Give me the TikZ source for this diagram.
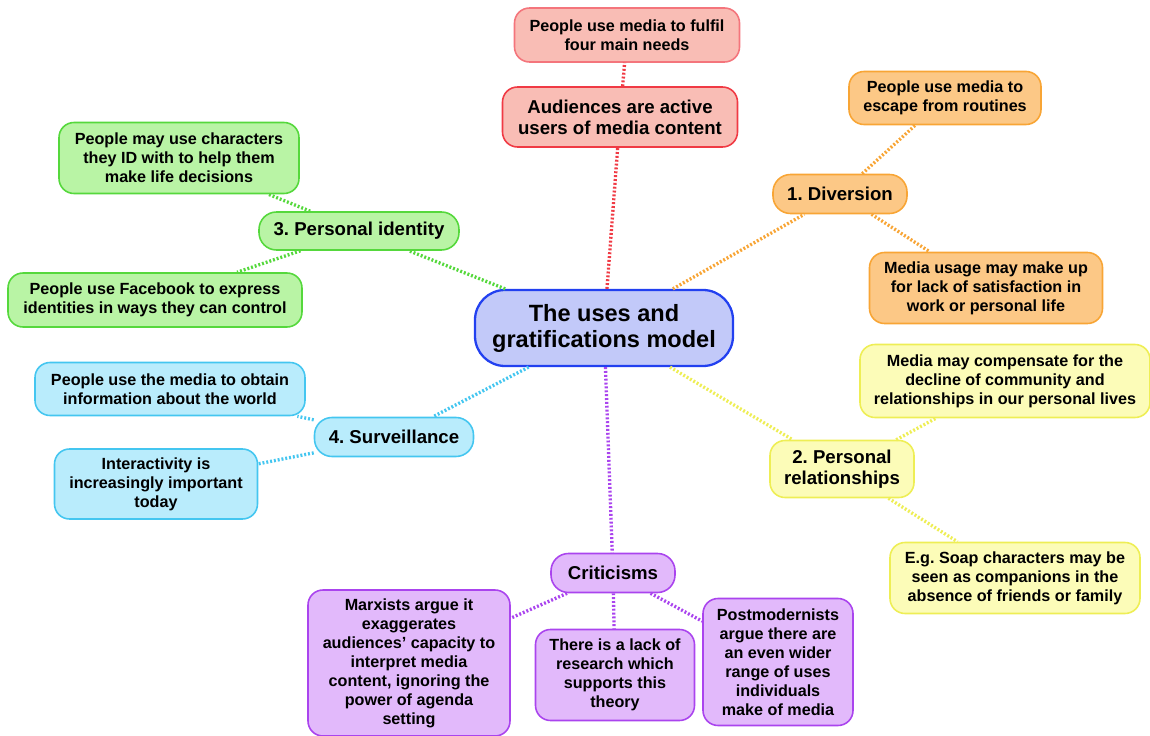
\documentclass[tikz,border=0pt]{standalone}
\usepackage{fontspec}
\setmainfont{Liberation Sans}
\usetikzlibrary{positioning}

\definecolor{bluefill}{HTML}{C2C9F9}
\definecolor{blueline}{HTML}{2240F0}
\definecolor{redfill}{HTML}{F9BDB5}
\definecolor{redline}{HTML}{F03A44}
\definecolor{orangefill}{HTML}{FCC886}
\definecolor{orangeline}{HTML}{F8A535}
\definecolor{yellowfill}{HTML}{FCFCB8}
\definecolor{yellowline}{HTML}{EEEE55}
\definecolor{purplefill}{HTML}{E2B9FB}
\definecolor{purpleline}{HTML}{AA44EE}
\definecolor{cyanfill}{HTML}{B9ECFC}
\definecolor{cyanline}{HTML}{44C6F0}
\definecolor{greenfill}{HTML}{B9F4A5}
\definecolor{greenline}{HTML}{55D83C}

\frenchspacing
\begin{document}
\begin{tikzpicture}[x=0.02cm, y=-0.02cm,
  box/.style={draw, line width=0.9pt, rounded corners=0.3cm, align=center, inner sep=2pt,
    font=\bfseries\fontsize{9.2}{10.8}\selectfont},
  sz/.style 2 args={minimum width=#1*0.02cm, minimum height=#2*0.02cm},
  mid/.style={font=\bfseries\fontsize{10.6}{12}\selectfont},
  link/.style={line width=1.9pt, dash pattern=on 1.1pt off 1.1pt},
  redbox/.style={box, fill=redfill, draw=redline!70},
  orangebox/.style={box, fill=orangefill, draw=orangeline},
  yellowbox/.style={box, fill=yellowfill, draw=yellowline},
  purplebox/.style={box, fill=purplefill, draw=purpleline},
  cyanbox/.style={box, fill=cyanfill, draw=cyanline},
  greenbox/.style={box, fill=greenfill, draw=greenline}
]
\useasboundingbox (0,0) rectangle (1150,736);

% centre
\node[box, fill=bluefill, draw=blueline, line width=1.3pt, rounded corners=0.6cm, sz={258}{76},
  font=\bfseries\fontsize{13.4}{14.8}\selectfont] (model) at (604,328) {The uses and\\gratifications model};

% top branch
\node[redbox, draw=redline, mid, sz={235}{60}] (active) at (620,117) {Audiences are active\\users of media content};
\node[redbox, sz={225}{54}] (needs) at (627,35) {People use media to fulfil\\four main needs};

% diversion
\node[orangebox, mid, sz={134}{39}, rounded corners=0.35cm] (diversion) at (840,194) {1. Diversion};
\node[orangebox, sz={192}{53}] (escape) at (945,98) {People use media to\\escape from routines};
\node[orangebox, sz={233}{71}] (lack) at (986,288) {Media usage may make up\\for lack of satisfaction in\\work or personal life};

% personal relationships
\node[yellowbox, mid, sz={144}{57}] (relations) at (842,469) {2. Personal\\relationships};
\node[yellowbox, sz={290}{73}] (compensate) at (1005,381) {Media may compensate for the\\decline of community and\\relationships in our personal lives};
\node[yellowbox, sz={250}{71}] (soap) at (1015,578) {E.g. Soap characters may be\\seen as companions in the\\absence of friends or family};

% criticisms
\node[purplebox, mid, sz={124}{39}, rounded corners=0.35cm] (critic) at (613,573) {Criticisms};
\node[purplebox, sz={202}{146}] (marx) at (409,663) {Marxists argue it\\exaggerates\\audiences' capacity to\\interpret media\\content, ignoring the\\power of agenda\\setting};
\node[purplebox, sz={159}{91}] (research) at (615,675) {There is a lack of\\research which\\supports this\\theory};
\node[purplebox, sz={150}{127}] (postmod) at (778,662) {Postmodernists\\argue there are\\an even wider\\range of uses\\individuals\\make of media};

% surveillance
\node[cyanbox, mid, sz={159}{39}, rounded corners=0.35cm] (surveil) at (394,437) {4. Surveillance};
\node[cyanbox, sz={270}{53}] (inform) at (170,389) {People use the media to obtain\\information about the world};
\node[cyanbox, sz={203}{70}] (interact) at (156,484) {Interactivity is\\increasingly important\\today};

% personal identity
\node[greenbox, mid, sz={200}{38}, rounded corners=0.35cm] (identity) at (359,231) {3. Personal identity};
\node[greenbox, sz={240}{71}] (decide) at (179,158) {People may use characters\\they ID with to help them\\make life decisions};
\node[greenbox, sz={294}{54}] (facebook) at (155,300) {People use Facebook to express\\identities in ways they can control};

% links
\draw[link, draw=redline] (model) -- (active);
\draw[link, draw=redline] (active) -- (needs);
\draw[link, draw=orangeline] (model) -- (diversion);
\draw[link, draw=orangeline] (diversion) -- (escape);
\draw[link, draw=orangeline] (diversion) -- (lack);
\draw[link, draw=yellowline] (model) -- (relations);
\draw[link, draw=yellowline] (relations) -- (compensate);
\draw[link, draw=yellowline] (relations) -- (soap);
\draw[link, draw=purpleline] (model) -- (critic);
\draw[link, draw=purpleline] (critic) -- (marx);
\draw[link, draw=purpleline] (critic) -- (research);
\draw[link, draw=purpleline] (critic) -- (postmod);
\draw[link, draw=cyanline] (model) -- (surveil);
\draw[link, draw=cyanline] (surveil) -- (inform);
\draw[link, draw=cyanline] (surveil) -- (interact);
\draw[link, draw=greenline] (model) -- (identity);
\draw[link, draw=greenline] (identity) -- (decide);
\draw[link, draw=greenline] (identity) -- (facebook);
\end{tikzpicture}
\end{document}
